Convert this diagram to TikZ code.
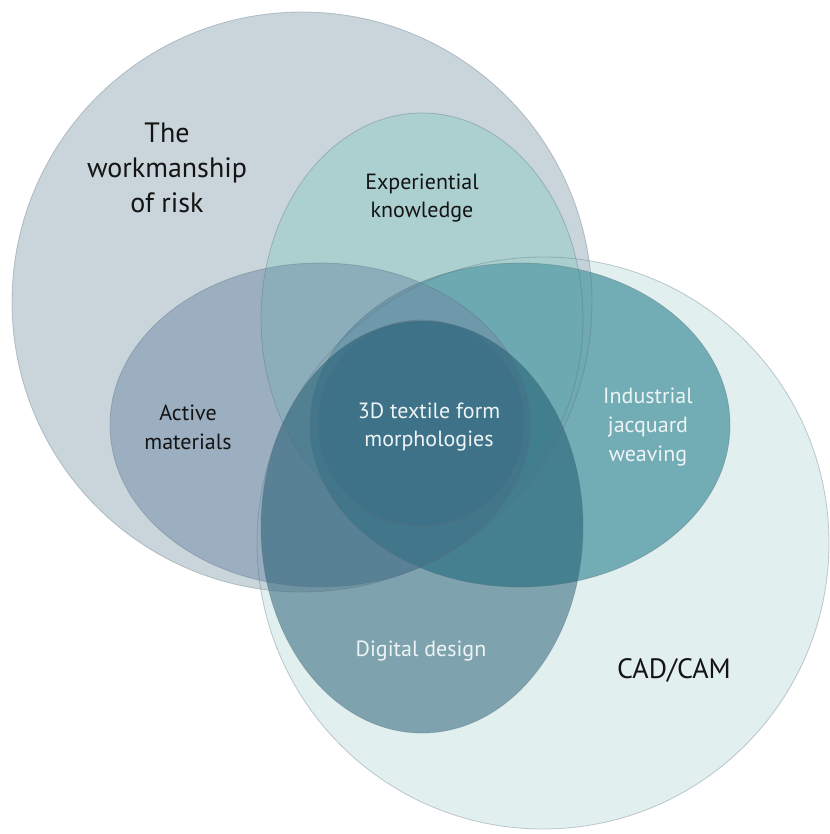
\documentclass[tikz,border=0pt]{standalone}
\usepackage{fontspec}
\setmainfont{PT Sans}
\begin{document}
\begin{tikzpicture}[x=1pt,y=-1pt]
\definecolor{cB}{RGB}{225,239,238}
\definecolor{cA}{RGB}{188,203,211}
\definecolor{cJac}{RGB}{102,165,174}
\definecolor{cDig}{RGB}{19,81,105}
\definecolor{cAct}{RGB}{111,139,166}
\definecolor{cExp}{RGB}{151,205,200}
\definecolor{cCore}{RGB}{50,100,125}
\definecolor{edge}{RGB}{90,110,125}
\definecolor{darktxt}{RGB}{20,20,20}
\definecolor{lighttxt}{RGB}{238,244,245}
\tikzset{
  venn/.style={draw=edge, draw opacity=.35, line width=.8pt},
  big/.style={font=\fontsize{28}{34}\selectfont, anchor=base, inner sep=0pt},
  small/.style={font=\fontsize{22}{27}\selectfont, anchor=base, inner sep=0pt},
}
\useasboundingbox (0,0) rectangle (829,834);
\fill[white] (0,0) rectangle (829,834);
% fills, bottom to top
\fill[cB] (543,543) circle [radius=286pt];                                   % CAD/CAM
\fill[cA, fill opacity=.8] (302,302) circle [radius=290pt];                  % workmanship of risk
\fill[cExp, fill opacity=.6] (422,319) ellipse [x radius=161pt, y radius=206pt]; % experiential knowledge
\fill[cJac, fill opacity=.9] (520,425) ellipse [x radius=210pt, y radius=162pt]; % industrial jacquard weaving
\fill[cAct, fill opacity=.5] (320,425) ellipse [x radius=210pt, y radius=162pt]; % active materials
\fill[cDig, fill opacity=.48] (422,527) ellipse [x radius=161pt, y radius=206pt]; % digital design
\fill[cCore, fill opacity=.2] (421,423) circle [radius=103pt];               % 3D textile form morphologies
% outlines
\path[venn] (543,543) circle [radius=286pt];
\path[venn] (302,302) circle [radius=290pt];
\path[venn] (422,319) ellipse [x radius=161pt, y radius=206pt];
\path[venn] (520,425) ellipse [x radius=210pt, y radius=162pt];
\path[venn] (320,425) ellipse [x radius=210pt, y radius=162pt];
\path[venn] (422,527) ellipse [x radius=161pt, y radius=206pt];
\path[venn] (421,423) circle [radius=103pt];

\node[big, text=darktxt] (w1) at (167,143) {The};
\node[big, text=darktxt] (w2) at (167,178) {workmanship};
\node[big, text=darktxt] (w3) at (167,212) {of risk};
\node[small, text=darktxt] (e1) at (422,190) {Experiential};
\node[small, text=darktxt] (e2) at (422,218) {knowledge};
\node[small, text=darktxt] (a1) at (188,420) {Active};
\node[small, text=darktxt] (a2) at (188,449) {materials};
\node[small, text=lighttxt] (c1) at (429,418) {3D textile form};
\node[small, text=lighttxt] (c2) at (429,446) {morphologies};
\node[small, text=lighttxt] (j1) at (648,403) {Industrial};
\node[small, text=lighttxt] (j2) at (648,432) {jacquard};
\node[small, text=lighttxt] (j3) at (648,461) {weaving};
\node[small, text=lighttxt] (d1) at (421,656) {Digital design};
\node[big, text=darktxt] (cc) at (674,678) {CAD/CAM};
\end{tikzpicture}
\end{document}
